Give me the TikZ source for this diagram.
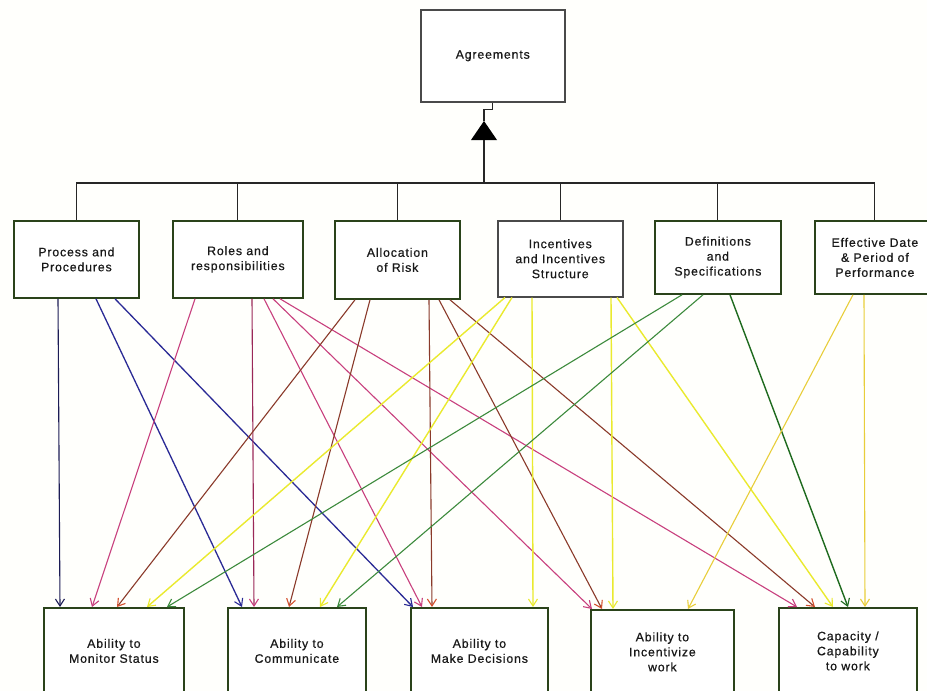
\documentclass[tikz,border=0pt]{standalone}
\usepackage{fontspec}
\newfontfamily\labfont{Liberation Sans}[LetterSpace=7,FakeBold=0.6]
\usetikzlibrary{arrows.meta}

\definecolor{boxgreen}{HTML}{2A431A}
\definecolor{boxgray}{HTML}{4A4A4A}
\definecolor{cnavy}{HTML}{1C1C55}
\definecolor{cblue}{HTML}{2A2A95}
\definecolor{cpink}{HTML}{C8407E}
\definecolor{cdpink}{HTML}{9A2858}
\definecolor{cbrown}{HTML}{8A3A2A}
\definecolor{cbrowntip}{HTML}{D4502E}
\definecolor{cyellow}{HTML}{EAEA2E}
\definecolor{cgreen}{HTML}{3C8A3C}
\definecolor{cdgreen}{HTML}{1E6A1E}
\definecolor{corange}{HTML}{E8CE3A}

\tikzset{
  lab/.style={font={\labfont\fontsize{12.3}{15}\selectfont}, text=black!90, align=center},
  box/.style={lab, draw=boxgreen, line width=1.8pt, fill=white, anchor=north west, inner sep=2pt},
  graybox/.style={box, draw=boxgray, line width=1.5pt},
  tree/.style={draw=black!85, line width=1.1pt},
  link/.style={line width=1.1pt, -{Straight Barb[length=7pt,width=9pt,line width=1.1pt]}},
  navyarr/.style={link, draw=cnavy},
  bluearr/.style={link, draw=cblue, line width=1.3pt},
  pinkarr/.style={link, draw=cpink},
  dpinkarr/.style={link, draw=cdpink, -{Straight Barb[length=7pt,width=9pt,line width=1.1pt,color=cpink]}},
  brownarr/.style={link, draw=cbrown, -{Straight Barb[length=7pt,width=9pt,line width=1.1pt,color=cbrowntip]}},
  yelarr/.style={link, draw=cyellow, line width=1.4pt},
  greenarr/.style={link, draw=cgreen},
  dgreenarr/.style={link, draw=cdgreen, line width=1.4pt},
  orarr/.style={link, draw=corange},
}

\begin{document}
\begin{tikzpicture}[x=1pt,y=-1pt]
\useasboundingbox (0,0) rectangle (927,691);
\fill[white!99!yellow] (0,0) rectangle (927,691);
\begin{scope}
\clip (0,0) rectangle (927,691);

% root
\node[graybox, minimum width=144pt, minimum height=92pt] (ag) at (420,9) {Agreements};

% first level
\node[box, minimum width=125pt, minimum height=77pt] (t1) at (13,220) {Process and\\Procedures};
\node[box, minimum width=130pt, minimum height=77pt] (t2) at (172,220) {Roles and\\responsibilities};
\node[box, minimum width=125pt, minimum height=78pt] (t3) at (334,220) {Allocation\\of Risk};
\node[graybox, minimum width=125pt, minimum height=76pt] (t4) at (497,220) {Incentives\\and Incentives\\Structure};
\node[box, minimum width=126pt, minimum height=73pt] (t5) at (654,220) {Definitions\\and\\Specifications};
\node[box, minimum width=120pt, minimum height=73pt] (t6) at (814,220) {Effective Date\\\& Period of\\Performance};

% outcomes
\node[box, minimum width=140pt, minimum height=86pt] (b1) at (43,607) {Ability to\\Monitor Status};
\node[box, minimum width=138pt, minimum height=86pt] (b2) at (227,607) {Ability to\\Communicate};
\node[box, minimum width=137pt, minimum height=86pt] (b3) at (410,607) {Ability to\\Make Decisions};
\node[box, minimum width=143pt, minimum height=84pt] (b4) at (590,609) {Ability to\\Incentivize\\work};
\node[box, minimum width=138pt, minimum height=86pt] (b5) at (778,607) {Capacity /\\Capability\\to work};

% generalisation tree
\coordinate (bus) at (0,183);
\coordinate (apex) at (484,121);
\coordinate (base) at (484,140);
\draw[tree] (ag.south) -- ++(0,7) -| (apex);
\fill[black] (apex) -- ++(-13,19) -- ++(26,0) -- cycle;
\draw[tree] (base) -- (base |- bus);
\draw[tree] (t1.north |- bus) -- (t6.north |- bus);
\foreach \n in {t1,t2,t3,t4,t5,t6}
  \draw[tree] (\n.north) -- (\n.north |- bus);

% Process and Procedures
\draw[navyarr] ([xshift=45pt]t1.south west) -- ([xshift=17pt]b1.north west);
\draw[bluearr] ([xshift=83pt]t1.south west) -- ([xshift=15pt]b2.north west);
\draw[bluearr] ([xshift=102pt]t1.south west) -- ([xshift=3pt]b3.north west);

% Roles and responsibilities
\draw[pinkarr] ([xshift=23pt]t2.south west) -- ([xshift=49pt]b1.north west);
\draw[dpinkarr] ([xshift=80pt]t2.south west) -- ([xshift=27pt]b2.north west);
\draw[pinkarr] ([xshift=92pt]t2.south west) -- ([xshift=12pt]b3.north west);
\draw[pinkarr] ([xshift=101pt]t2.south west) -- ([xshift=2pt]b4.north west);
\draw[pinkarr] ([xshift=108pt]t2.south west) -- ([xshift=19pt]b5.north west);

% Allocation of Risk
\draw[brownarr] ([xshift=21pt]t3.south west) -- ([xshift=74pt]b1.north west);
\draw[brownarr] ([xshift=36pt]t3.south west) -- ([xshift=62pt]b2.north west);
\draw[brownarr] ([xshift=95pt]t3.south west) -- ([xshift=22pt]b3.north west);
\draw[brownarr] ([xshift=105pt]t3.south west) -- ([xshift=12pt]b4.north west);
\draw[brownarr] ([xshift=116pt]t3.south west) -- ([xshift=37pt]b5.north west);

% Incentives and Incentives Structure
\draw[yelarr] ([xshift=8pt]t4.south west) -- ([xshift=104pt]b1.north west);
\draw[yelarr] ([xshift=15pt]t4.south west) -- ([xshift=93pt]b2.north west);
\draw[yelarr] ([xshift=35pt]t4.south west) -- ([xshift=123pt]b3.north west);
\draw[yelarr] ([xshift=114pt]t4.south west) -- ([xshift=23pt]b4.north west);
\draw[yelarr] ([xshift=120pt]t4.south west) -- ([xshift=55pt]b5.north west);

% Definitions and Specifications
\draw[greenarr] ([xshift=28pt]t5.south west) -- ([xshift=124pt]b1.north west);
\draw[greenarr] ([xshift=49pt]t5.south west) -- ([xshift=110pt]b2.north west);
\draw[dgreenarr] ([xshift=76pt]t5.south west) -- ([xshift=70pt]b5.north west);

% Effective Date & Period of Performance
\draw[orarr] ([xshift=39pt]t6.south west) -- ([xshift=98pt]b4.north west);
\draw[orarr] ([xshift=50pt]t6.south west) -- ([xshift=87pt]b5.north west);
\end{scope}
\end{tikzpicture}
\end{document}
